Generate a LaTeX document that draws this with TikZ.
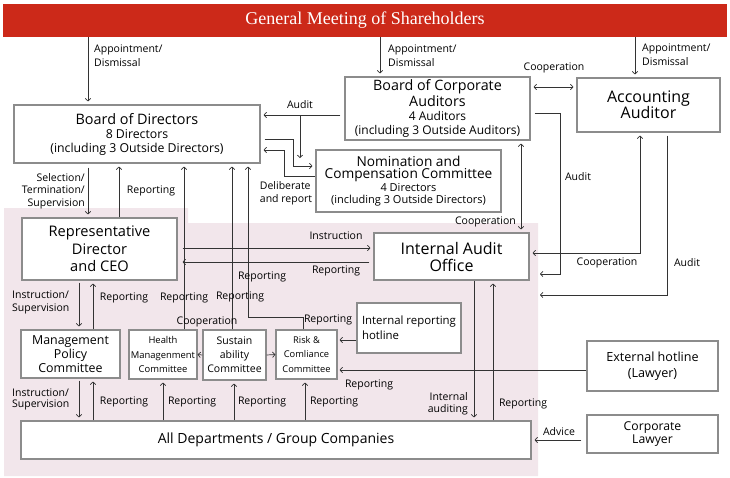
\documentclass[tikz,border=0pt]{standalone}
\usepackage{fontspec}
\setmainfont{Open Sans}
\newfontfamily\gmfont{Liberation Serif}
\usetikzlibrary{arrows.meta, positioning, calc}
\definecolor{gmred}{RGB}{204, 41, 25}
\definecolor{zonepink}{RGB}{242, 230, 235}
\definecolor{boxgray}{RGB}{140, 140, 140}
\newcommand{\fsz}[2]{\fontsize{#1}{#2}\selectfont}
\tikzset{
  box/.style={draw=boxgray, line width=1.1pt, fill=white, align=center, inner sep=0pt},
  lbl/.style={font=\fsz{10.5}{12.5}, inner sep=0pt},
  arr/.style={draw=black!80, line width=0.7pt, shorten >=3pt, -{Straight Barb[length=2.5pt,width=5.5pt]}},
  biarr/.style={arr, shorten <=3pt, {Straight Barb[length=2.5pt,width=5.5pt]}-{Straight Barb[length=2.5pt,width=5.5pt]}},
}

\begin{document}
\begin{tikzpicture}[x=1pt, y=-1pt]
  \useasboundingbox (0,0) rectangle (730,477);
  % company area
  \fill[zonepink] (4,208) -- (188,208) -- (188,223) -- (538,223) -- (538,476) -- (4,476) -- cycle;

  % boxes
  \node[fill=gmred, minimum width=724, minimum height=33, inner sep=0pt, text=white, font=\gmfont\fsz{18}{20}] (gm) at (365,20.5) {General Meeting of Shareholders};
  \node[box, minimum width=246, minimum height=58, font=\fsz{12.3}{14}] (bod) at (137,134) {{\fsz{14.4}{14}Board of Directors}\\8 Directors\\(including 3 Outside Directors)};
  \node[box, minimum width=185, minimum height=63, font=\fsz{12}{14}] (bca) at (437.5,108.5) {{\fsz{14.3}{14}Board of Corporate}\\{\fsz{14.3}{14}Auditors}\\4 Auditors\\(including 3 Outside Auditors)};
  \node[box, minimum width=143, minimum height=54, font=\fsz{16}{16}] (aa) at (648.5,105) {Accounting\\Auditor};
  \node[box, minimum width=185, minimum height=62, font=\fsz{11}{12.5}] (ncc) at (408.5,181) {{\fsz{13.7}{14}Nomination and}\\{\fsz{13.7}{14}Compensation Committee}\\4 Directors\\(including 3 Outside Directors)};
  \node[box, minimum width=155, minimum height=62, font=\fsz{14.6}{17.5}] (ceo) at (99.5,249) {Representative\\Director\\and CEO};
  \node[box, minimum width=155, minimum height=47, font=\fsz{16}{17}] (iao) at (451.5,256.5) {Internal Audit\\Office};
  \node[box, minimum width=99, minimum height=48, font=\fsz{12.4}{14}] (mpc) at (70.5,354) {Management\\Policy\\Committee};
  \node[box, minimum width=68, minimum height=49, font=\fsz{9.4}{14.5}] (hmc) at (163,354.5) {Health\\Managenment\\Committee};
  \node[box, minimum width=63, minimum height=50, font=\fsz{10.5}{14}] (sus) at (234.5,355) {Sustain\\ability\\Committee};
  \node[box, minimum width=61, minimum height=49, font=\fsz{9.3}{14.5}] (rcc) at (306.5,354.5) {Risk \&\\Comliance\\Committee};
  \node[box, minimum width=104, minimum height=50, font=\fsz{11.4}{15}, align=left] (irh) at (409,328) {Internal reporting\\hotline};
  \node[box, minimum width=131, minimum height=50, font=\fsz{12.6}{15.5}] (ext) at (652.5,366) {External hotline\\(Lawyer)};
  \node[box, minimum width=131, minimum height=38, font=\fsz{12.2}{13}] (law) at (652.5,434) {Corporate\\Lawyer};
  \node[box, minimum width=510, minimum height=38, font=\fsz{14}{14}] (all) at (276,440) {All Departments / Group Companies};

  % free ends
  \coordinate (audj) at (300,115);
  \coordinate (audnc) at (300,158);
  \coordinate (zonein1) at (540,274);
  \coordinate (zonein2) at (540,295);

  % shareholders
  \draw[arr] (gm.south -| 88,0) -- (bod.north -| 88,0);
  \draw[arr] (gm.south -| 380,0) -- (bca.north -| 380,0);
  \draw[arr] (gm.south -| 635,0) -- (aa.north -| 635,0);
  \node[lbl, align=left, anchor=west, font=\fsz{10.5}{14}] (lapp1) at (94,56) {Appointment/\\Dismissal};
  \node[lbl, align=left, anchor=west, font=\fsz{10.5}{14}] (lapp2) at (388,56) {Appointment/\\Dismissal};
  \node[lbl, align=left, anchor=west, font=\fsz{10.5}{14}] (lapp3) at (642,55) {Appointment/\\Dismissal};

  % auditors
  \draw[biarr] (bca.east |- 0,87) -- (aa.west |- 0,87);
  \node[lbl] (lcoop1) at (554,68) {Cooperation};
  \draw[arr, shorten <=4pt] (bca.west |- 0,115) -- (bod.east |- 0,115);
  \draw[arr, shorten >=0pt] (audj) -- (audnc);
  \node[lbl] (laud1) at (300,105) {Audit};
  \draw[arr, shorten <=4pt] (bod.east |- 0,139) -| (293,166) -- (ncc.west |- 0,166);
  \draw[arr] (ncc.west |- 0,176) -| (284,150) -- (bod.east |- 0,150);
  \node[lbl, align=left] (ldelib) at (286,193.5) {Deliberate\\and report};
  \draw[biarr] (bca.south -| 521,0) -- (iao.north -| 521,0);
  \node[lbl, anchor=east] (lcoop3) at (516,222) {Cooperation};
  \draw[arr, shorten <=4pt, shorten >=0pt] (bca.east |- 0,113) -| (560,274) -- (zonein1);
  \node[lbl] (laud2) at (578,177) {Audit};
  \draw[biarr] (iao.east |- 0,253) -| (aa.south -| 640,0);
  \node[lbl] (lcoop4) at (607,263) {Cooperation};
  \draw[arr, shorten <=3pt, shorten >=0pt] (aa.south -| 667,0) |- (zonein2);
  \node[lbl] (laud3) at (687,263) {Audit};

  % board and ceo
  \draw[arr, shorten <=4pt] (bod.south -| 88,0) -- (ceo.north -| 88,0);
  \node[lbl, align=right, anchor=east] (lsel) at (85,191) {Selection/\\Termination/\\Supervision};
  \draw[arr] (ceo.north -| 119,0) -- (bod.south -| 119,0);
  \node[lbl] (lrep1) at (151,191) {Reporting};
  \draw[arr] (hmc.north -| 184,0) -- (bod.south -| 184,0);
  \node[lbl] (lrep2) at (184,298) {Reporting};
  \draw[arr] (sus.north -| 232,0) -- (bod.south -| 232,0);
  \node[lbl] (lrep3) at (240,297) {Reporting};
  \draw[arr] (rcc.north -| 303,0) |- (248,317) -- (bod.south -| 248,0);
  \node[lbl] (lrep4) at (262,277) {Reporting};

  % ceo and internal audit
  \draw[arr, shorten <=5pt] (ceo.east |- 0,248) -- (iao.west |- 0,248);
  \node[lbl] (lins1) at (336,236) {Instruction};
  \draw[arr, shorten <=4pt, shorten >=5pt] (iao.west |- 0,262) -- (ceo.east |- 0,262);
  \node[lbl] (lrep6) at (336,271) {Reporting};

  % ceo and committees
  \draw[arr, shorten <=2pt] (ceo.south -| 79,0) -- (mpc.north -| 79,0);
  \node[lbl, align=left, anchor=west] (lins2) at (12,302.5) {Instruction/\\Supervision};
  \draw[arr] (mpc.north -| 93,0) -- (ceo.south -| 93,0);
  \node[lbl] (lrep7) at (124,298) {Reporting};
  \draw[arr, shorten >=0pt] (sus.west) -- (hmc.east);
  \draw[arr, shorten >=0pt] (sus.east) -- (rcc.west);
  \node[lbl] (lcoop2) at (207,322) {Cooperation};
  \draw[arr, shorten >=2pt] (irh.west |- 0,340) -- (rcc.east |- 0,340);
  \node[lbl] (lrep5) at (328,320) {Reporting};
  \draw[arr, shorten >=2pt] (ext.west |- 0,370) -- (rcc.east |- 0,370);
  \node[lbl] (lrep12) at (369,385) {Reporting};

  % committees and departments
  \draw[arr, shorten <=2pt] (mpc.south -| 79,0) -- (all.north -| 79,0);
  \node[lbl, align=left, anchor=west, font=\fsz{10.5}{11.5}] (lins3) at (12,399.5) {Instruction/\\Supervision};
  \draw[arr] (all.north -| 93,0) -- (mpc.south -| 93,0);
  \node[lbl] (lrep8) at (124,402) {Reporting};
  \draw[arr] (all.north -| 163,0) -- (hmc.south -| 163,0);
  \node[lbl] (lrep9) at (192,402) {Reporting};
  \draw[arr] (all.north -| 234,0) -- (sus.south -| 234,0);
  \node[lbl] (lrep10) at (262,402) {Reporting};
  \draw[arr] (all.north -| 305,0) -- (rcc.south -| 305,0);
  \node[lbl] (lrep11) at (334,402) {Reporting};
  \draw[arr] (iao.south -| 474,0) -- (all.north -| 474,0);
  \node[lbl, align=right, anchor=east, font=\fsz{10.5}{12}] (lintaud) at (468,404) {Internal\\auditing};
  \draw[arr] (all.north -| 493,0) -- (iao.south -| 493,0);
  \node[lbl] (lrep13) at (523,404) {Reporting};
  \draw[arr, shorten <=5pt] (law.west |- 0,440) -- (all.east |- 0,440);
  \node[lbl] (ladv) at (559,432) {Advice};
\end{tikzpicture}
\end{document}
